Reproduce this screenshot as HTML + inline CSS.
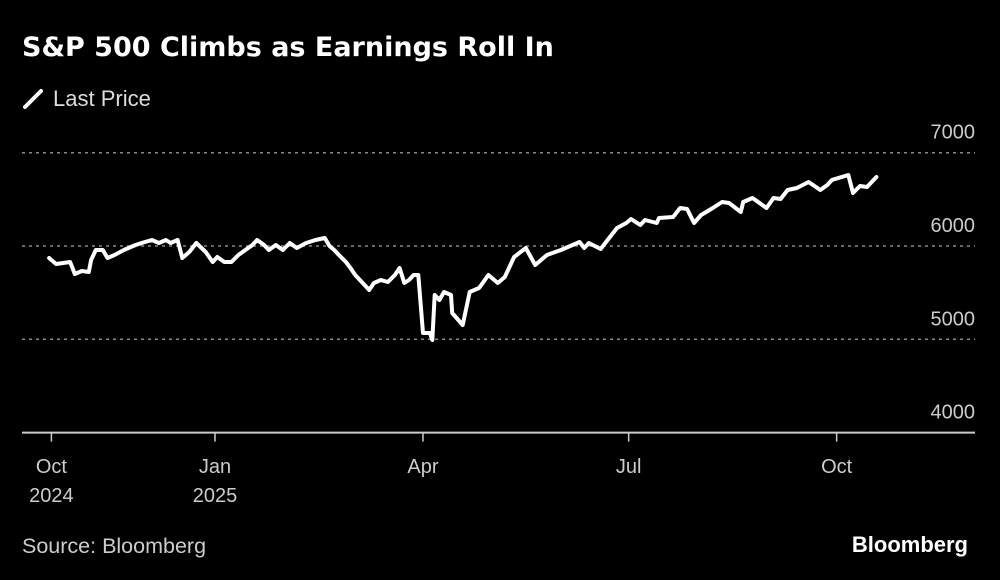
<!DOCTYPE html>
<html><head><meta charset="utf-8">
<style>
body{margin:0;background:#000;width:1000px;height:580px;overflow:hidden;font-family:"Liberation Sans",sans-serif;color:#fff}
.t{position:absolute}
</style></head><body>
<div class="t" style="left:22px;top:32px;font-size:27px;font-weight:bold;font-family:'DejaVu Sans',sans-serif;">S&amp;P 500 Climbs as Earnings Roll In</div>
<div class="t" style="left:22px;top:86px;font-size:22px;color:#ddd;display:flex;align-items:center">
<svg width="22" height="22"><line x1="3" y1="19" x2="19" y2="3" stroke="#fff" stroke-width="4" stroke-linecap="round"/></svg>
<span style="margin-left:9px">Last Price</span></div>
<svg id="chart" class="t" style="left:0;top:0" width="1000" height="580"></svg>
<div class="t" style="left:22px;top:534px;font-size:21.5px;color:#ccc">Source: Bloomberg</div>
<div class="t" style="right:32px;top:532px;font-size:22px;font-weight:bold">Bloomberg</div>
<script>
const days=[-71,-68,-62,-60,-57,-54,-53,-51,-48,-46,-43,-39,-34,-30,-27,-24,-21,-19,-16,-14,-11,-8,-4,-1,1,4,7,10,13,16,18,21,23,26,29,32,35,39,43,47,49,51,53,56,58,60,62,64,66,68,71,74,77,79,81,83,85,87,89,92,93,94,96,98,101,101.5,106,109,113,117,121,124,128,133,137,142,148,156,158,160,165,168,172,176,178,182,184,189,190,196,199,202,205,208,213,217,220,225,226,230,236,239,242,245,249,254,259,262,264,271,273,276,279,283];
const prices=[5871,5807,5828,5700,5732,5721,5850,5957,5957,5871,5904,5957,6011,6043,6064,6032,6064,6032,6064,5871,5936,6032,5936,5828,5882,5828,5828,5904,5957,6011,6064,6011,5957,6011,5957,6032,5979,6032,6064,6086,6000,5957,5904,5828,5764,5689,5636,5582,5528,5603,5636,5614,5689,5764,5603,5636,5689,5689,5067,5067,4992,5475,5421,5507,5475,5282,5153,5507,5550,5689,5603,5668,5882,5979,5796,5904,5957,6043,5979,6032,5968,6064,6193,6247,6289,6225,6279,6247,6300,6311,6407,6397,6247,6332,6407,6472,6461,6364,6472,6515,6407,6515,6504,6600,6622,6686,6600,6654,6708,6761,6568,6643,6632,6740];
const yTicks=[4000,5000,6000,7000];
const xTickLabels=["Oct|2024","Jan|2025","Apr","Jul","Oct"];
const xTickDays=[-70,0,89,177,266];
const X=d=>215+d*2.337;
const Y=v=>246-(v-6000)*0.0933;
const svg=document.getElementById('chart');
const NS='http://www.w3.org/2000/svg';
function mk(tag,attrs){const e=document.createElementNS(NS,tag);for(const k in attrs)e.setAttribute(k,attrs[k]);svg.appendChild(e);return e;}
yTicks.forEach(v=>{
  if(v>4000){const g=mk('line',{x1:22,x2:975,y1:Y(v),y2:Y(v),stroke:'#888','stroke-width':1.5,'stroke-dasharray':'3,4'});
  
  }
  const t=mk('text',{x:975,y:Y(v)-14,'text-anchor':'end','font-size':20,fill:'#ccc','font-family':'Liberation Sans, sans-serif'});
  t.textContent=v;
  
  
});
const ax=mk('line',{x1:22,x2:975,y1:Y(4000),y2:Y(4000),stroke:'#ccc','stroke-width':2});


xTickDays.forEach((d,i)=>{
  const x=X(d);
  const tk=mk('line',{x1:x,x2:x,y1:Y(4000),y2:Y(4000)+9,stroke:'#ccc','stroke-width':1.5});
  
  
  xTickLabels[i].split('|').forEach((s,j)=>{
    const t=mk('text',{x:x,y:473+j*29,'text-anchor':'middle','font-size':20,fill:'#ccc','font-family':'Liberation Sans, sans-serif'});
    t.textContent=s;
    
    
  });
});
const pts=days.map((d,i)=>X(d).toFixed(1)+','+Y(prices[i]).toFixed(1)).join(' ');
const pl=mk('polyline',{points:pts,fill:'none',stroke:'#fff','stroke-width':4,'stroke-linejoin':'round','stroke-linecap':'round'});


</script>
</body></html>
